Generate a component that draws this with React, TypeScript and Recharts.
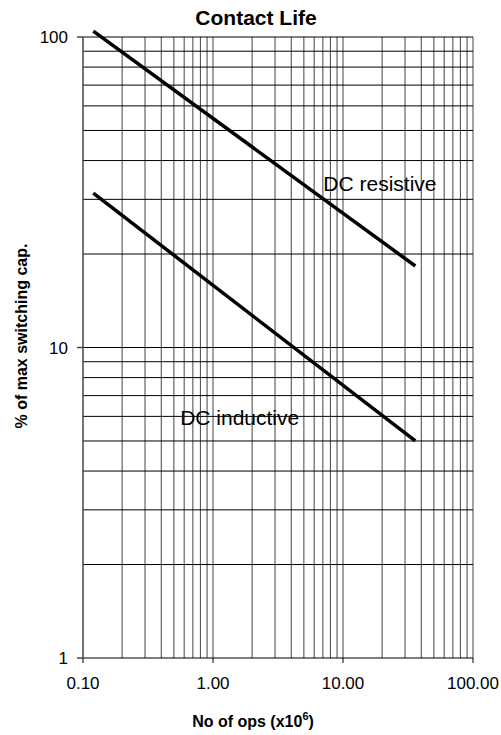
import { LineChart, Line, XAxis, YAxis, ReferenceLine, ReferenceDot, Label } from 'recharts';

// axis ticks (labelled)
const opsTicks = [0.1, 1, 10, 100];
const capTicks = [1, 10, 100];

// grid lines, log decades
const opsGrid = [0.2, 0.3, 0.4, 0.5, 0.6, 0.7, 0.8, 0.9, 1, 2, 3, 4, 5, 6, 7, 8, 9, 10, 20, 30, 40, 50, 60, 70, 80, 90, 100];
const capGrid = [2, 3, 4, 5, 6, 7, 8, 9, 10, 20, 30, 40, 50, 60, 70, 80, 90, 100];

// series
const resistiveOps = [0.12, 36];
const resistiveCap = [104.5, 18.3];
const inductiveOps = [0.12, 36];
const inductiveCap = [31.4, 5.0];

const resistive = resistiveOps.map((ops, i) => ({ ops, cap: resistiveCap[i] }));
const inductive = inductiveOps.map((ops, i) => ({ ops, cap: inductiveCap[i] }));

const FONT = '"Liberation Sans", Arial, sans-serif';

export default function App() {
  return (
    <div style={{ position: 'relative', width: 501, height: 735, fontFamily: FONT }}>
      <style>{'body{margin:0} .recharts-line, .recharts-line g, .recharts-line path, g[clip-path]{clip-path:none !important}'}</style>
      <div
        style={{
          position: 'absolute',
          top: 7,
          left: 0,
          width: 512,
          textAlign: 'center',
          fontSize: 21,
          fontWeight: 'bold',
          lineHeight: 1,
        }}
      >
        Contact Life
      </div>
      <LineChart width={501} height={735} margin={{ top: 37, right: 28, bottom: 0, left: 0 }}>
        {opsGrid.map((v) => (
          <ReferenceLine key={'x' + v} x={v} stroke="#444" strokeWidth={1} />
        ))}
        {capGrid.map((v) => (
          <ReferenceLine key={'y' + v} y={v} stroke="#000" strokeWidth={1} />
        ))}
        <XAxis
          type="number"
          dataKey="ops"
          scale="log"
          domain={[0.1, 100]}
          ticks={opsTicks}
          allowDataOverflow
          height={77}
          tickSize={5}
          tickMargin={14}
          tickFormatter={(v: number) => v.toFixed(2)}
          tick={{ fill: '#000', fontSize: 17, fontFamily: FONT }}
          stroke="#000"
        >
          <Label
            content={() => (
              <text x={253} y={727} textAnchor="middle" fontFamily={FONT} fontSize={16} fontWeight="bold" fill="#000">
                <tspan>No of ops (x10</tspan>
                <tspan dy={-7} fontSize={11}>6</tspan>
                <tspan dy={7}>)</tspan>
              </text>
            )}
          />
        </XAxis>
        <YAxis
          type="number"
          dataKey="cap"
          scale="log"
          domain={[1, 100]}
          ticks={capTicks}
          allowDataOverflow
          width={83}
          tickSize={6}
          tickMargin={9}
          tick={{ fill: '#000', fontSize: 17, fontFamily: FONT }}
          stroke="#444"
          strokeWidth={1.5}
        >
          <Label
            content={() => (
              <text
                x={21}
                y={336}
                transform="rotate(-90 21 336)"
                textAnchor="middle"
                dominantBaseline="central"
                fontFamily={FONT}
                fontSize={16}
                fontWeight="bold"
                fill="#000"
              >
                % of max switching cap.
              </text>
            )}
          />
        </YAxis>
        <Line
          data={resistive}
          dataKey="cap"
          type="linear"
          stroke="#000"
          strokeWidth={3.5}
          dot={false}
          isAnimationActive={false}
        />
        <Line
          data={inductive}
          dataKey="cap"
          type="linear"
          stroke="#000"
          strokeWidth={3.5}
          dot={false}
          isAnimationActive={false}
        />
        <ReferenceDot
          x={7.06}
          y={33.8}
          r={0}
          stroke="none"
          label={{ value: 'DC resistive', position: 'right', offset: 0, fontSize: 21, fontFamily: FONT, fill: '#000' }}
        />
        <ReferenceDot
          x={0.559}
          y={5.94}
          r={0}
          stroke="none"
          label={{ value: 'DC inductive', position: 'right', offset: 0, fontSize: 21, fontFamily: FONT, fill: '#000' }}
        />
      </LineChart>
    </div>
  );
}
